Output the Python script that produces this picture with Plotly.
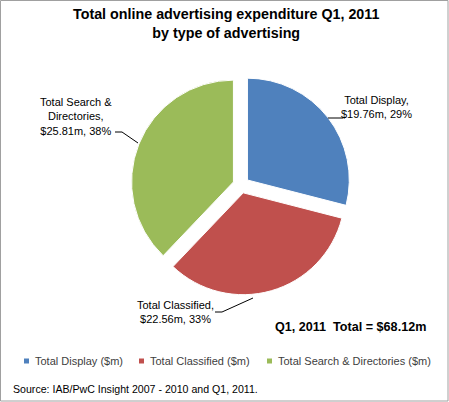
import plotly.graph_objects as go

W, H = 449, 402

categories = ["Total Display", "Total Classified", "Total Search & Directories"]
legend_labels = ["Total Display ($m)", "Total Classified ($m)", "Total Search & Directories ($m)"]
values = [19.76, 22.56, 25.81]
percents = ["29%", "33%", "38%"]
colors = ["#4F81BD", "#C0504D", "#9BBB59"]
total_label = "Q1, 2011  Total = $68.12m"
title_text = "Total online advertising expenditure Q1, 2011<br>by type of advertising"
source_text = "Source: IAB/PwC Insight 2007 - 2010 and Q1, 2011."

FONT = "Liberation Sans, Arial, sans-serif"


def px(x):
    return x / W


def py(y):
    return 1 - y / H


fig = go.Figure()
fig.add_trace(go.Pie(
    labels=categories,
    values=values,
    sort=False,
    direction="clockwise",
    rotation=0,
    pull=[0.08, 0.08, 0.08],
    marker=dict(colors=colors, line=dict(color="#FFFFFF", width=1)),
    textinfo="none",
    hoverinfo="label+value+percent",
    showlegend=False,
    domain=dict(x=[px(131), px(351)], y=[py(295), py(75)]),
))

annotations = []
shapes = []

# title
annotations.append(dict(x=px(226), y=py(23), xref="paper", yref="paper", text="<b>" + title_text + "</b>",
                        showarrow=False, font=dict(family=FONT, size=14.3, color="#000000"),
                        xanchor="center", yanchor="middle"))

# data labels
lab = [f"{categories[0]},<br>${values[0]:.2f}m, {percents[0]}",
       f"{categories[1]},<br>${values[1]:.2f}m, {percents[1]}",
       "Total Search &<br>Directories,<br>$" + f"{values[2]:.2f}m, {percents[2]}"]
LBL = 11
annotations.append(dict(x=px(376), y=py(107), xref="paper", yref="paper", text=lab[0], showarrow=False,
                        font=dict(family=FONT, size=LBL, color="#000000"), xanchor="center", yanchor="middle", align="center"))
annotations.append(dict(x=px(175), y=py(312), xref="paper", yref="paper", text=lab[1], showarrow=False,
                        font=dict(family=FONT, size=LBL, color="#000000"), xanchor="center", yanchor="middle", align="center"))
annotations.append(dict(x=px(76), y=py(116), xref="paper", yref="paper", text=lab[2], showarrow=False,
                        font=dict(family=FONT, size=LBL, color="#000000"), xanchor="center", yanchor="middle", align="center"))

# leader lines
def line_path(pts):
    d = "M " + " L ".join(f"{px(x)},{py(y)}" for x, y in pts)
    return dict(type="path", xref="paper", yref="paper", path=d, line=dict(color="#000000", width=1))

shapes.append(line_path([(343, 118), (328, 118)]))
shapes.append(line_path([(215, 312), (222, 312), (253, 298)]))
shapes.append(line_path([(115, 132), (122, 132), (138, 143)]))

# total
annotations.append(dict(x=px(428), y=py(327), xref="paper", yref="paper", text="<b>" + total_label + "</b>",
                        showarrow=False, font=dict(family=FONT, size=12.6, color="#000000"),
                        xanchor="right", yanchor="middle"))

# legend (manual)
leg_x = [24, 139, 267]
for i, lx in enumerate(leg_x):
    shapes.append(dict(type="rect", xref="paper", yref="paper", x0=px(lx), x1=px(lx + 5),
                       y0=py(363.5), y1=py(358.5), fillcolor=colors[i], line=dict(width=0)))
    annotations.append(dict(x=px(lx + 9), y=py(361), xref="paper", yref="paper", text=legend_labels[i],
                            showarrow=False, font=dict(family=FONT, size=11, color="#404040"),
                            xanchor="left", yanchor="middle"))

# source
annotations.append(dict(x=px(11), y=py(389), xref="paper", yref="paper", text=source_text,
                        showarrow=False, font=dict(family=FONT, size=10.6, color="#000000"),
                        xanchor="left", yanchor="middle"))

# border
shapes.append(dict(type="rect", xref="paper", yref="paper", x0=px(0.5), x1=px(448), y0=py(401), y1=py(0.5),
                   line=dict(color="#A0A0A0", width=1)))

fig.update_layout(
    width=W, height=H,
    margin=dict(l=0, r=0, t=0, b=0),
    paper_bgcolor="#FFFFFF", plot_bgcolor="#FFFFFF",
    annotations=annotations, shapes=shapes,
    showlegend=False,
)

fig.write_html("out.html", config={"displayModeBar": False},
               post_script="document.body.style.margin='0';document.body.style.overflow='hidden';")
